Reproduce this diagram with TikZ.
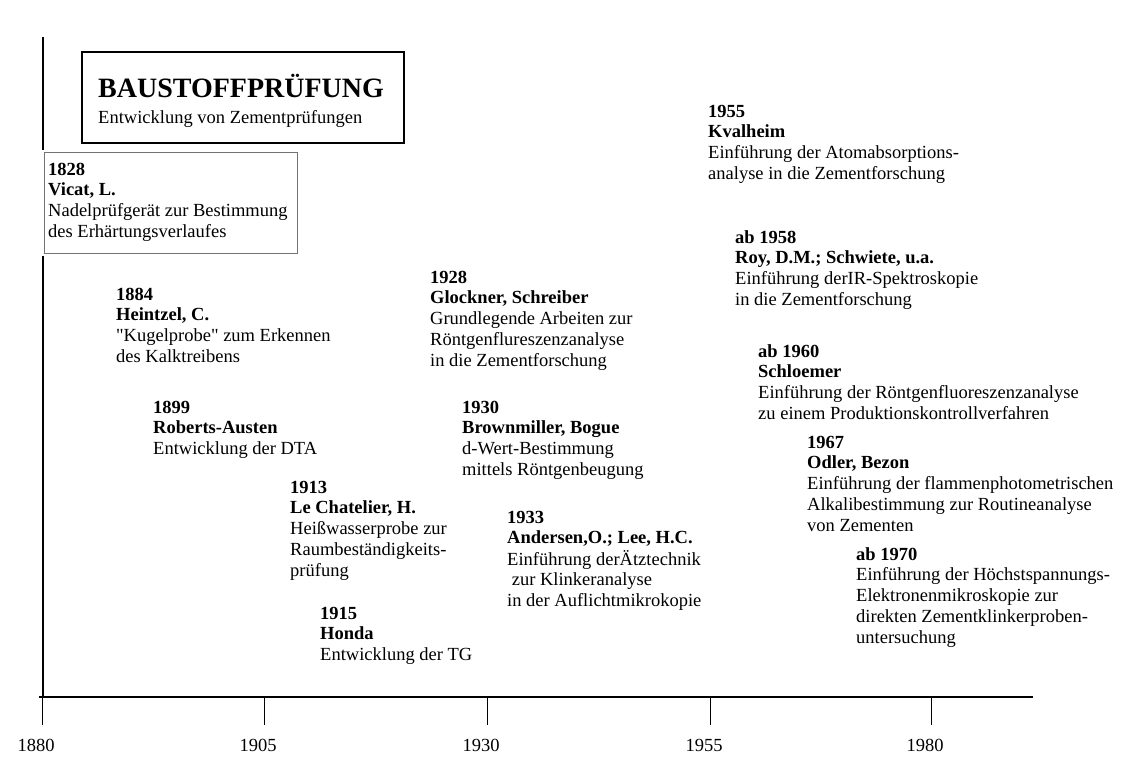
\documentclass[tikz,border=0pt]{standalone}
\usepackage{fontspec}
\setmainfont{Liberation Serif}[Ligatures=TeXOff]
\newcommand{\evlines}[1]{\begin{tabular}[t]{@{}l@{}}#1\end{tabular}}
\begin{document}
\begin{tikzpicture}[x=1pt,y=-1pt,
  ev/.style={anchor=base west, inner sep=0pt, font=\fontsize{18.5}{20.8}\selectfont},
  axisline/.style={line width=2.6pt, black},
  tickline/.style={line width=0.8pt, black},
  ticklbl/.style={anchor=base, inner sep=0pt, font=\fontsize{18.5}{20.8}\selectfont},
  titleframe/.style={draw, line width=2.4pt, anchor=north west, inner sep=0pt},
  eventframe/.style={draw=black!55, line width=0.8pt, anchor=north west, inner sep=0pt}]
\useasboundingbox (0,0) rectangle (1136,756);
\fill[white] (0,0) rectangle (1136,756);

% axes
\coordinate (vtop) at (43,37);
\coordinate (vgapA) at (43,150);
\coordinate (vgapB) at (43,256);
\coordinate (O) at (43,697);
\coordinate (xstart) at (39,697);
\coordinate (xend) at (1033,697);
\draw[axisline] (vtop) -- (vgapA);
\draw[axisline] (vgapB) -- (O);
\draw[axisline] (xstart) -- (xend);

% ticks
\foreach \yr/\px in {1880/42,1905/264,1930/487,1955/710,1980/931}{
  \coordinate (t\yr) at (\px,697);
  \coordinate (tb\yr) at (\px,725);
  \draw[tickline] (t\yr) -- (tb\yr);
  \node[ticklbl] (l\yr) at (\px-6,751) {\yr};
}

% title
\node[titleframe, minimum width=322pt, minimum height=91pt] (titlebox) at (81,51) {};
\node[anchor=base west, inner sep=0pt, font=\bfseries\fontsize{28}{30}\selectfont] (title) at (98,97) {BAUSTOFFPRÜFUNG};
\node[anchor=base west, inner sep=0pt, font=\fontsize{18.5}{20.8}\selectfont] (subtitle) at (98,123) {Entwicklung von Zementprüfungen};

% 1828 framed
\node[eventframe, minimum width=253pt, minimum height=101pt] (vicatbox) at (44,152) {};
\node[ev] (e1828) at (48,175) {\evlines{\textbf{1828}\\\textbf{Vicat, L.}\\Nadelprüfgerät zur Bestimmung\\des Erhärtungsverlaufes}};

\node[ev] (e1884) at (116,300) {\evlines{\textbf{1884}\\\textbf{Heintzel, C.}\\"Kugelprobe" zum Erkennen\\des Kalktreibens}};
\node[ev] (e1899) at (153,413) {\evlines{\textbf{1899}\\\textbf{Roberts-Austen}\\Entwicklung der DTA}};
\node[ev] (e1913) at (290,493) {\evlines{\textbf{1913}\\\textbf{Le Chatelier, H.}\\Heißwasserprobe zur\\Raumbeständigkeits-\\prüfung}};
\node[ev] (e1915) at (320,619) {\evlines{\textbf{1915}\\\textbf{Honda}\\Entwicklung der TG}};
\node[ev] (e1928) at (430,283) {\evlines{\textbf{1928}\\\textbf{Glockner, Schreiber}\\Grundlegende Arbeiten zur\\Röntgenflureszenzanalyse\\in die Zementforschung}};
\node[ev] (e1930) at (462,413) {\evlines{\textbf{1930}\\\textbf{Brownmiller, Bogue}\\d-Wert-Bestimmung\\mittels Röntgenbeugung}};
\node[ev] (e1933) at (507,523) {\evlines{\textbf{1933}\\\textbf{Andersen,O.; Lee, H.C.}\\Einführung derÄtztechnik\\\hspace{0.25em}zur Klinkeranalyse\\in der Auflichtmikrokopie}};
\node[ev] (e1955) at (708,117) {\evlines{\textbf{1955}\\\textbf{Kvalheim}\\Einführung der Atomabsorptions-\\analyse in die Zementforschung}};
\node[ev] (e1958) at (735,243) {\evlines{\textbf{ab 1958}\\\textbf{Roy, D.M.; Schwiete, u.a.}\\Einführung derIR-Spektroskopie\\in die Zementforschung}};
\node[ev] (e1960) at (758,357) {\evlines{\textbf{ab 1960}\\\textbf{Schloemer}\\Einführung der Röntgenfluoreszenzanalyse\\zu einem Produktionskontrollverfahren}};
\node[ev] (e1967) at (807,448) {\evlines{\textbf{1967}\\\textbf{Odler, Bezon}\\Einführung der flammenphotometrischen\\Alkalibestimmung zur Routineanalyse\\von Zementen}};
\node[ev] (e1970) at (856,560) {\evlines{\textbf{ab 1970}\\Einführung der Höchstspannungs-\\Elektronenmikroskopie zur\\direkten Zementklinkerproben-\\untersuchung}};
\end{tikzpicture}
\end{document}
